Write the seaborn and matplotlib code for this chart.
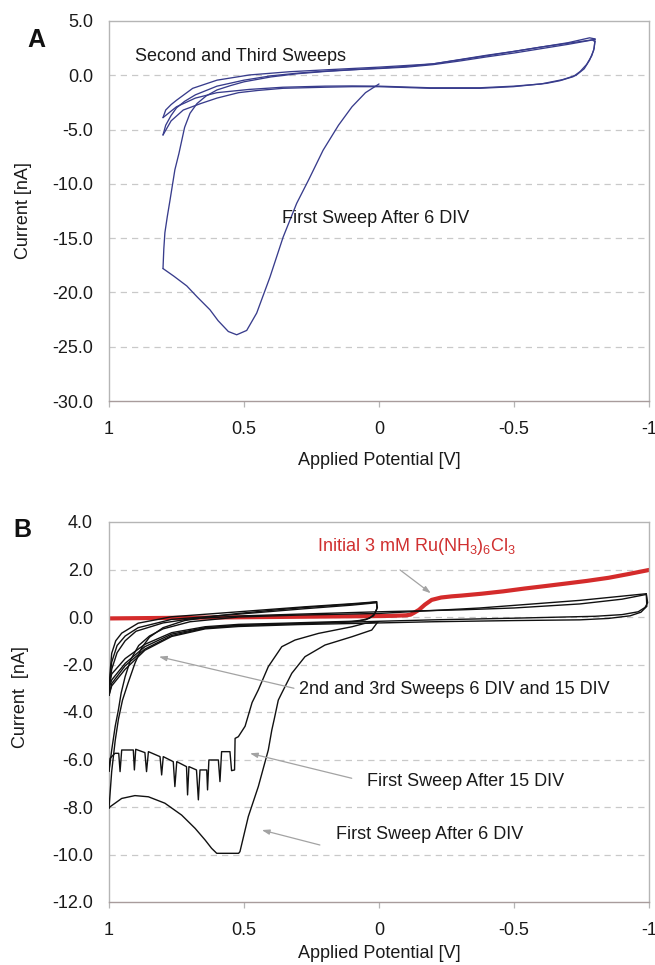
import numpy as np
import pandas as pd
import matplotlib
matplotlib.use("Agg")
import matplotlib.pyplot as plt
import seaborn as sns

# ---------------- Panel A data (V, nA) ----------------
A_first_V = [0.0, 0.05, 0.1, 0.15, 0.207, 0.26, 0.305, 0.355, 0.404, 0.453, 0.49, 0.527, 0.558, 0.596, 0.626, 0.674, 0.712, 0.76, 0.8]
A_first_I = [-0.8, -1.6, -2.9, -4.6, -6.9, -9.6, -11.8, -14.9, -18.6, -21.9, -23.5, -23.9, -23.6, -22.6, -21.6, -20.4, -19.4, -18.5, -17.8]

A_return_V = [0.8, 0.797, 0.793, 0.784, 0.774, 0.756, 0.741, 0.72, 0.7, 0.674, 0.64, 0.6, 0.55, 0.5, 0.4, 0.3, 0.2, 0.1, 0.0, -0.1, -0.2, -0.3, -0.4, -0.5, -0.6, -0.7, -0.78, -0.8]
A_return_I = [-17.8, -16.0, -14.5, -13.0, -11.5, -8.7, -7.2, -4.8, -3.5, -2.6, -1.9, -1.35, -0.95, -0.6, -0.15, 0.15, 0.35, 0.5, 0.65, 0.82, 1.05, 1.45, 1.85, 2.2, 2.6, 3.0, 3.45, 3.35]

A_low1_V = [-0.8, -0.797, -0.788, -0.769, -0.745, -0.719, -0.67, -0.621, -0.55, -0.497, -0.374, -0.19, 0.0, 0.1, 0.2, 0.356, 0.45, 0.52, 0.6, 0.66, 0.725, 0.77, 0.8]
A_low1_I = [3.35, 2.5, 1.8, 1.0, 0.35, -0.13, -0.5, -0.74, -0.92, -1.05, -1.2, -1.2, -1.05, -1.05, -1.1, -1.2, -1.4, -1.6, -2.1, -2.6, -3.2, -4.2, -5.5]

A_up2_V = [0.8, 0.79, 0.77, 0.75, 0.72, 0.68, 0.6, 0.5, 0.4, 0.3, 0.2, 0.1, 0.0, -0.1, -0.2, -0.3, -0.4, -0.5, -0.6, -0.7, -0.79, -0.8]
A_up2_I = [-5.5, -4.6, -3.7, -3.0, -2.4, -1.8, -1.0, -0.45, -0.05, 0.2, 0.38, 0.52, 0.62, 0.75, 0.98, 1.32, 1.7, 2.05, 2.45, 2.85, 3.25, 3.1]

A_low2_V = [-0.8, -0.795, -0.78, -0.76, -0.73, -0.68, -0.6, -0.5, -0.374, -0.19, 0.0, 0.1, 0.2, 0.356, 0.48, 0.6, 0.68, 0.75, 0.8]
A_low2_I = [3.1, 2.3, 1.4, 0.6, 0.0, -0.4, -0.8, -1.0, -1.15, -1.15, -1.0, -0.98, -1.0, -1.1, -1.3, -1.6, -2.1, -2.9, -3.9]

A_up3_V = [0.8, 0.79, 0.77, 0.75, 0.69, 0.6, 0.48, 0.33, 0.2, 0.0, -0.2, -0.4, -0.6, -0.8]
A_up3_I = [-3.9, -3.2, -2.7, -2.3, -1.2, -0.45, 0.03, 0.33, 0.5, 0.75, 1.05, 1.8, 2.6, 3.3]

# ---------------- Panel B data (V, nA) ----------------
B_ru_V = [1.0, 0.9, 0.8, 0.7, 0.6, 0.5, 0.4, 0.3, 0.2, 0.1, 0.0, -0.05, -0.1, -0.117, -0.13, -0.148, -0.17, -0.195, -0.23, -0.27, -0.304, -0.38, -0.46, -0.54, -0.614, -0.7, -0.77, -0.85, -0.92, -1.0]
B_ru_I = [-0.06, -0.05, -0.04, -0.03, -0.02, -0.01, 0.0, 0.01, 0.02, 0.03, 0.04, 0.05, 0.07, 0.1, 0.18, 0.3, 0.52, 0.72, 0.82, 0.87, 0.9, 0.98, 1.08, 1.2, 1.3, 1.42, 1.52, 1.65, 1.8, 1.98]

B_6f_V = [0.004, 0.027, 0.1, 0.2, 0.274, 0.323, 0.36, 0.373, 0.388, 0.397, 0.41, 0.447, 0.484, 0.515, 0.52, 0.601, 0.62, 0.644, 0.681, 0.731, 0.793, 0.854, 0.904, 0.953, 0.996, 1.0]
B_6f_I = [-0.2, -0.55, -0.83, -1.18, -1.67, -2.37, -3.2, -3.5, -4.3, -4.76, -5.6, -7.14, -8.4, -9.88, -9.95, -9.95, -9.74, -9.39, -8.9, -8.34, -7.84, -7.57, -7.52, -7.64, -7.99, -8.05]

B_6r_V = [1.0, 0.99, 0.977, 0.965, 0.95, 0.93, 0.904, 0.879, 0.85, 0.8, 0.72, 0.6, 0.52, 0.4, 0.274, 0.15, 0.05, 0.009]
B_6r_I = [-8.05, -6.5, -5.2, -4.3, -3.5, -2.8, -1.95, -1.3, -0.85, -0.45, -0.15, 0.05, 0.15, 0.28, 0.4, 0.5, 0.58, 0.64]

B_6l1_V = [0.009, 0.006, 0.015, 0.035, 0.08, 0.2, 0.35, 0.52, 0.644, 0.768, 0.867, 0.94, 0.99, 1.0]
B_6l1_I = [0.64, 0.4, 0.15, -0.05, -0.18, -0.25, -0.3, -0.36, -0.47, -0.78, -1.35, -2.05, -2.8, -3.3]

B_6u2_V = [1.0, 0.995, 0.99, 0.975, 0.953, 0.892, 0.768, 0.52, 0.274, 0.1, 0.009]
B_6u2_I = [-3.3, -2.2, -1.53, -1.0, -0.68, -0.26, 0.01, 0.22, 0.43, 0.56, 0.64]

B_6l2_V = [0.009, 0.008, 0.02, 0.05, 0.1, 0.2, 0.35, 0.52, 0.644, 0.768, 0.867, 0.94, 0.99, 1.0]
B_6l2_I = [0.64, 0.35, 0.05, -0.12, -0.18, -0.21, -0.26, -0.31, -0.41, -0.66, -1.15, -1.75, -2.4, -2.9]

B_6u3_V = [1.0, 0.99, 0.97, 0.94, 0.892, 0.768, 0.52, 0.274, 0.1, 0.009]
B_6u3_I = [-2.9, -1.9, -1.2, -0.8, -0.45, -0.1, 0.12, 0.35, 0.5, 0.6]

B_15f_V = [0.0, 0.053, 0.1, 0.224, 0.311, 0.36, 0.41, 0.447, 0.47, 0.496, 0.521, 0.533, 0.535, 0.546, 0.552, 0.583, 0.589, 0.595,
           0.63, 0.635, 0.638, 0.663, 0.669, 0.676, 0.704, 0.709, 0.713, 0.749, 0.756, 0.762, 0.799, 0.805, 0.811,
           0.854, 0.861, 0.867, 0.901, 0.906, 0.910, 0.953, 0.959, 0.964, 0.978, 0.996, 1.0]
B_15f_I = [-0.2, -0.27, -0.41, -0.69, -0.97, -1.25, -2.09, -3.07, -3.6, -4.6, -5.04, -5.11, -6.44, -6.47, -5.67, -5.67, -6.93, -6.02,
           -6.02, -7.28, -6.44, -6.44, -7.70, -6.44, -6.30, -7.49, -6.30, -6.09, -7.14, -6.09, -5.88, -6.65, -5.88,
           -5.67, -6.51, -5.71, -5.57, -6.44, -5.60, -5.60, -6.51, -5.74, -5.74, -5.95, -6.5]

B_15r_V = [1.0, 0.99, 0.977, 0.965, 0.955, 0.94, 0.92, 0.89, 0.85, 0.8, 0.7, 0.52, 0.3, 0.0, -0.374, -0.744, -0.99]
B_15r_I = [-6.5, -5.6, -4.6, -3.9, -3.2, -2.5, -1.8, -1.2, -0.8, -0.5, -0.2, 0.0, 0.08, 0.15, 0.38, 0.7, 0.98]

B_15l1_V = [-0.99, -0.995, -0.985, -0.96, -0.9, -0.8, -0.5, -0.2, 0.0, 0.3, 0.52, 0.644, 0.768, 0.867, 0.94, 0.99, 1.0]
B_15l1_I = [0.98, 0.6, 0.4, 0.22, 0.1, 0.03, -0.05, -0.12, -0.18, -0.28, -0.35, -0.45, -0.72, -1.25, -1.95, -2.65, -3.0]

B_15u2_V = [1.0, 0.99, 0.97, 0.94, 0.9, 0.8, 0.7, 0.5, 0.3, 0.0, -0.3, -0.5, -0.744, -0.9, -0.99]
B_15u2_I = [-3.0, -2.2, -1.5, -1.0, -0.6, -0.25, -0.08, 0.05, 0.12, 0.22, 0.3, 0.38, 0.55, 0.75, 0.95]

B_15l2_V = [-0.99, -0.992, -0.97, -0.93, -0.85, -0.744, -0.5, -0.2, 0.0, 0.3, 0.52, 0.644, 0.768, 0.867, 0.94, 0.99, 1.0]
B_15l2_I = [0.95, 0.45, 0.2, 0.05, -0.06, -0.12, -0.15, -0.2, -0.25, -0.32, -0.4, -0.5, -0.82, -1.4, -2.2, -2.9, -3.3]

A_segments = [(A_first_V, A_first_I), (A_return_V, A_return_I), (A_low1_V, A_low1_I),
              (A_up2_V, A_up2_I), (A_low2_V, A_low2_I), (A_up3_V, A_up3_I)]
B_black_segments = [(B_6f_V, B_6f_I), (B_6r_V, B_6r_I), (B_6l1_V, B_6l1_I), (B_6u2_V, B_6u2_I),
                    (B_6l2_V, B_6l2_I), (B_6u3_V, B_6u3_I),
                    (B_15f_V, B_15f_I), (B_15r_V, B_15r_I), (B_15l1_V, B_15l1_I),
                    (B_15u2_V, B_15u2_I), (B_15l2_V, B_15l2_I)]


def to_frame(segments):
    rows = []
    for k, (vs, cs) in enumerate(segments):
        for j, (v, c) in enumerate(zip(vs, cs)):
            rows.append({"V": v, "I": c, "seg": k, "order": j})
    return pd.DataFrame(rows)


dfA = to_frame(A_segments)
dfB = to_frame(B_black_segments)
dfR = to_frame([(B_ru_V, B_ru_I)])

# ---------------- styling ----------------
sns.set_theme(style="white")
plt.rcParams["font.family"] = ["Liberation Sans", "DejaVu Sans"]
plt.rcParams["axes.unicode_minus"] = False
plt.rcParams["mathtext.fontset"] = "custom"
plt.rcParams["mathtext.rm"] = "Liberation Sans"
plt.rcParams["mathtext.it"] = "Liberation Sans:italic"
plt.rcParams["mathtext.bf"] = "Liberation Sans:bold"
plt.rcParams["mathtext.default"] = "regular"

FS = 13
TXT = "#1a1a1a"
GRID = "#c9c9c9"
FRAME = "#b5b5b5"

fig = plt.figure(figsize=(6.55, 9.65), dpi=100)
W, H = 655.0, 965.0
axA = fig.add_axes([109 / W, 1 - 401 / H, 540 / W, 380 / H])
axB = fig.add_axes([109 / W, 1 - 902 / H, 540 / W, 380 / H])

sns.lineplot(data=dfA, x="V", y="I", units="seg", estimator=None, sort=False,
             color="#383c8c", lw=0.95, ax=axA, legend=False)
sns.lineplot(data=dfR, x="V", y="I", units="seg", estimator=None, sort=False,
             color="#d42b2b", lw=3.0, ax=axB, legend=False, zorder=2)
sns.lineplot(data=dfB, x="V", y="I", units="seg", estimator=None, sort=False,
             color="#111111", lw=1.0, ax=axB, legend=False, zorder=3)


def style_axis(ax, ylo, yhi, ystep, label_y, ylab, ylab_y, xlab_y):
    ax.set_xlim(1, -1)
    ax.set_ylim(ylo, yhi)
    yt = np.arange(ylo, yhi + 0.001, ystep)
    ax.set_yticks(yt)
    ax.set_yticklabels([f"{v:.1f}" for v in yt])
    ax.set_xticks([1, 0.5, 0, -0.5, -1])
    ax.set_xticklabels(["1", "0.5", "0", "-0.5", "-1"])
    for v in yt[1:-1]:
        ax.axhline(v, color=GRID, lw=0.9, dashes=(5, 4), zorder=0)
    for s in ax.spines.values():
        s.set_visible(True)
        s.set_color(FRAME)
        s.set_linewidth(1.0)
    ax.spines["bottom"].set_color("#a89c9c")
    ax.tick_params(axis="x", direction="out", length=4.5, width=0.9, color=FRAME,
                   pad=10, labelsize=FS, labelcolor=TXT, bottom=True)
    ax.tick_params(axis="y", length=0, pad=11.5, labelsize=FS, labelcolor=TXT, left=True)
    ax.set_xlabel("Applied Potential [V]", fontsize=FS, color=TXT)
    ax.set_ylabel(ylab, fontsize=FS, color=TXT)
    ax.xaxis.set_label_coords(0.5, xlab_y)
    ax.yaxis.set_label_coords(label_y, ylab_y)
    ax.grid(False)


style_axis(axA, -30, 5, 5, -0.143, "Current [nA]", 0.5, -0.134)
style_axis(axB, -12, 4, 2, -0.148, "Current  [nA]", 0.54, -0.112)

# annotations panel A
axA.text(0.904, 1.71, "Second and Third Sweeps", fontsize=FS, color=TXT, ha="left", va="center")
axA.text(0.361, -13.17, "First Sweep After 6 DIV", fontsize=FS, color=TXT, ha="left", va="center")

# annotations panel B
axB.text(0.23, 2.95, "Initial 3 mM Ru(NH$_3$)$_6$Cl$_3$", fontsize=FS, color="#d03030",
         ha="left", va="center")
axB.text(0.298, -3.07, "2nd and 3rd Sweeps 6 DIV and 15 DIV", fontsize=FS, color=TXT,
         ha="left", va="center")
axB.text(0.046, -6.93, "First Sweep After 15 DIV", fontsize=FS, color=TXT, ha="left", va="center")
axB.text(0.159, -9.14, "First Sweep After 6 DIV", fontsize=FS, color=TXT, ha="left", va="center")

arrow_kw = dict(arrowstyle="-|>,head_length=0.45,head_width=0.15", color="#a3a3a3", lw=0.9,
                shrinkA=0, shrinkB=0, mutation_scale=10)
for (x0, y0), (x1, y1) in [((-0.078, 1.98), (-0.192, 1.0)),
                           ((0.315, -3.0), (0.815, -1.67)),
                           ((0.101, -6.79), (0.478, -5.74)),
                           ((0.219, -9.6), (0.434, -8.97))]:
    axB.annotate("", xy=(x1, y1), xytext=(x0, y0), arrowprops=arrow_kw, zorder=4)

fig.text(27 / W, 1 - 47 / H, "A", fontsize=18, fontweight="bold", color="#111111", ha="left", va="baseline")
fig.text(13 / W, 1 - 537 / H, "B", fontsize=18, fontweight="bold", color="#111111", ha="left", va="baseline")

fig.savefig("out.png", dpi=100, facecolor="white")
